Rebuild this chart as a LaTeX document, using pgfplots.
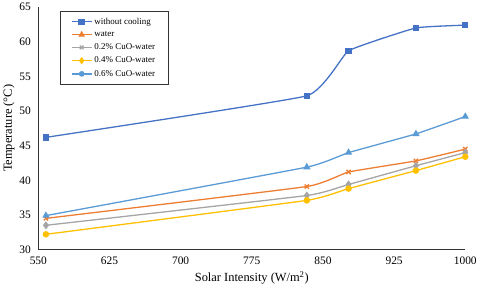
\documentclass[border=0pt]{standalone}
\usepackage{pgfplots}
\pgfplotsset{compat=1.18}
\usepackage{fontspec}
\setmainfont{Liberation Serif}
\definecolor{cBlue}{HTML}{4472C4}
\definecolor{cOrange}{HTML}{ED7D31}
\definecolor{cGray}{HTML}{A5A5A5}
\definecolor{cYellow}{HTML}{FFC000}
\definecolor{cLBlue}{HTML}{5B9BD5}
\begin{document}
\begin{tikzpicture}
\begin{axis}[
  scale only axis, width=428bp, height=243bp,
  xmin=550, xmax=1000, ymin=30, ymax=65,
  xtick={550,625,700,775,850,925,1000},
  ytick={30,35,40,45,50,55,60,65},
  axis x line=bottom, axis y line=left,
  axis line style={-, black!80, line width=0.8pt},
  major tick length=0pt,
  tick label style={font=\fontsize{11.5}{13}\selectfont},
  xticklabel style={yshift=-4pt},
  yticklabel style={xshift=-4pt},
  /pgf/number format/assume math mode=true,
  /pgf/number format/.cd, 1000 sep={}, /pgfplots/.cd,
  xlabel={Solar Intensity (W/m\textsuperscript{2})},
  ylabel={Temperature (°C)},
  label style={font=\fontsize{12.5}{14}\selectfont},
  ylabel style={yshift=-2pt},
  legend style={at={(0.05,0.985)}, anchor=north west, font=\fontsize{9}{10}\selectfont,
    draw=black!80, line width=0.5pt, row sep=1.8pt, inner xsep=11pt, inner ysep=5pt},
  legend cell align=left,
  legend image code/.code={
    \draw[line width=1.3pt, mark repeat=2,mark phase=2] plot coordinates {(0cm,0cm) (0.36cm,0cm) (0.72cm,0cm)};},
  every axis plot/.append style={line width=1.3pt, smooth, tension=0.2},
]
\addplot[color=cBlue, mark=square*, mark size=2.6pt] coordinates {(558,46.2)(833,52.2)(877,58.7)(948,62.0)(1000,62.4)};
\addlegendentry{without cooling}
\addplot[color=cOrange, mark=x, mark size=3pt, forget plot] coordinates {(558,34.5)(833,39.1)(877,41.2)(948,42.8)(1000,44.5)};
\addplot[color=cGray, mark=diamond*, mark size=3pt, forget plot] coordinates {(558,33.5)(833,37.8)(877,39.4)(948,42.1)(1000,44.0)};
\addplot[color=cYellow, mark=*, mark size=2.6pt, forget plot] coordinates {(558,32.2)(833,37.1)(877,38.8)(948,41.4)(1000,43.4)};
\addplot[color=cLBlue, mark=triangle*, mark size=3pt, forget plot] coordinates {(558,34.9)(833,41.9)(877,44.0)(948,46.7)(1000,49.2)};
\addlegendimage{color=cOrange, mark=triangle*, mark size=2.6pt}
\addlegendentry{water}
\addlegendimage{color=cGray, mark=x, mark size=2.6pt}
\addlegendentry{0.2\% CuO-water}
\addlegendimage{color=cYellow, mark=diamond*, mark size=2.6pt}
\addlegendentry{0.4\% CuO-water}
\addlegendimage{color=cLBlue, mark=*, mark size=2.2pt}
\addlegendentry{0.6\% CuO-water}
\end{axis}
\end{tikzpicture}
\end{document}
